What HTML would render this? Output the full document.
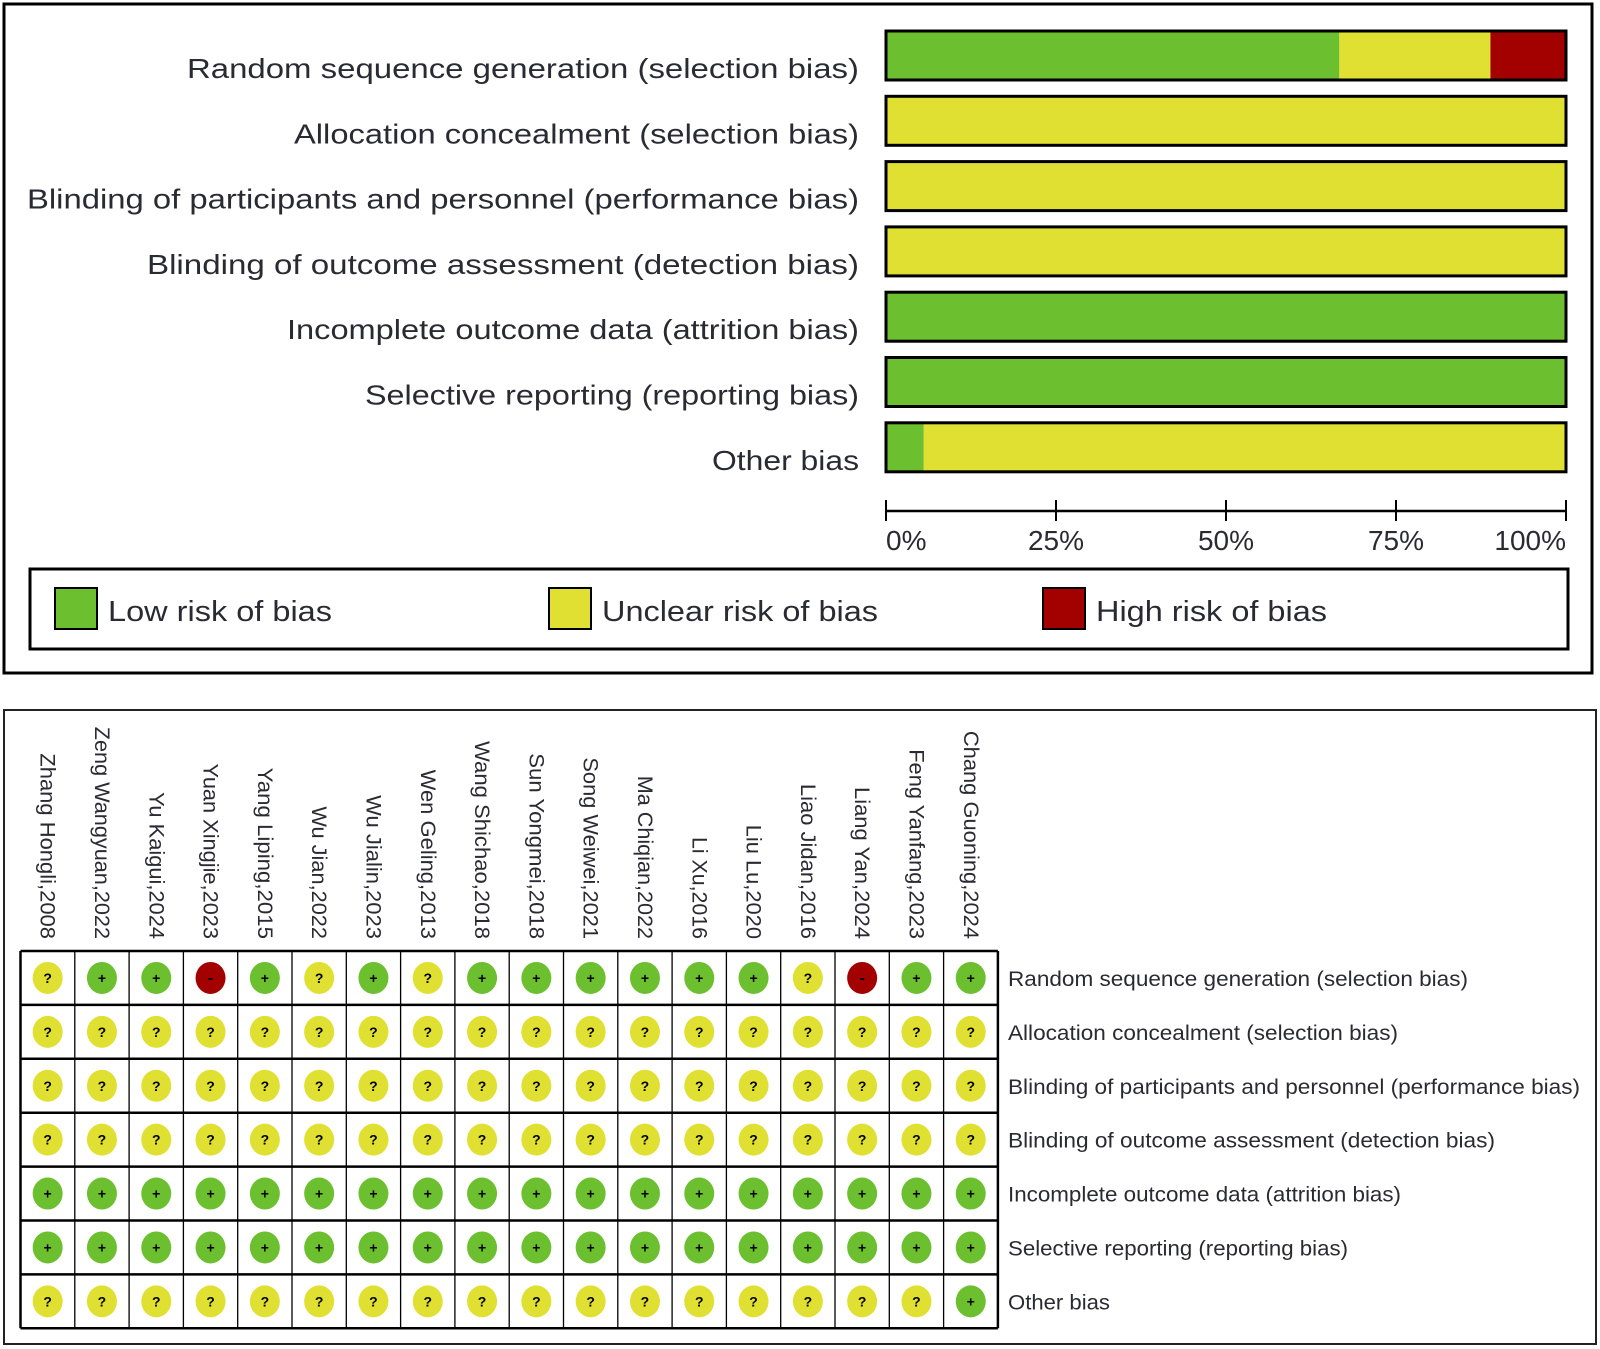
<!DOCTYPE html>
<html><head><meta charset="utf-8">
<style>
html,body{margin:0;padding:0;background:#fff;}
svg{display:block;font-family:"Liberation Sans","DejaVu Sans",sans-serif;}
</style></head>
<body>
<svg id="chart" width="1600" height="1349" viewBox="0 0 1600 1349" xmlns="http://www.w3.org/2000/svg">
<rect x="4" y="4" width="1588" height="669" fill="#fff" stroke="#000" stroke-width="3"/>
<rect x="4" y="710" width="1592" height="634" fill="#fff" stroke="#222" stroke-width="2"/>
</svg>
<script>
const domains = ["Random sequence generation (selection bias)","Allocation concealment (selection bias)","Blinding of participants and personnel (performance bias)","Blinding of outcome assessment (detection bias)","Incomplete outcome data (attrition bias)","Selective reporting (reporting bias)","Other bias"];
const studies = ["Zhang Hongli,2008","Zeng Wangyuan,2022","Yu Kaigui,2024","Yuan Xingjie,2023","Yang Liping,2015","Wu Jian,2022","Wu Jialin,2023","Wen Geling,2013","Wang Shichao,2018","Sun Yongmei,2018","Song Weiwei,2021","Ma Chiqian,2022","Li Xu,2016","Liu Lu,2020","Liao Jidan,2016","Liang Yan,2024","Feng Yanfang,2023","Chang Guoning,2024"];
const judgRandom     = "?++-+?+?++++++?-++".split("");
const judgAllocation = "??????????????????".split("");
const judgBlindPart  = "??????????????????".split("");
const judgBlindOut   = "??????????????????".split("");
const judgIncomplete = "++++++++++++++++++".split("");
const judgSelective  = "++++++++++++++++++".split("");
const judgOther      = "?????????????????+".split("");
const judgments = [judgRandom,judgAllocation,judgBlindPart,judgBlindOut,judgIncomplete,judgSelective,judgOther];
const tickLabels = ["0%","25%","50%","75%","100%"];
const tickValues = [0,25,50,75,100];
const legendLabels = ["Low risk of bias","Unclear risk of bias","High risk of bias"];

const NS="http://www.w3.org/2000/svg";
const svg=document.getElementById("chart");
const GREEN="#6cbf2e", YELLOW="#e0e032", RED="#a30000", TXT="#2a2a33";
function el(tag,attrs,parent){const e=document.createElementNS(NS,tag);for(const k in attrs)e.setAttribute(k,attrs[k]);(parent||svg).appendChild(e);return e;}

// top chart scales
const X0=886, X1=1566;
const xScale=p=>X0+(X1-X0)*p/100;
const rowTop=i=>31+i*65.3;
const BARH=49;
const labelLens=[672,565,832,712,572,494,147];

domains.forEach((d,i)=>{
  const j=judgments[i], n=j.length;
  const low=j.filter(v=>v==="+").length/n*100;
  const unc=j.filter(v=>v==="?").length/n*100;
  const high=j.filter(v=>v==="-").length/n*100;
  const y=rowTop(i);
  const t=el("text",{x:859,y:y+47,"text-anchor":"end","font-size":28,fill:TXT,textLength:labelLens[i],lengthAdjust:"spacingAndGlyphs"});
  t.textContent=d;
  
  
  let acc=0;
  [[low,GREEN,'bar-low'],[unc,YELLOW,'bar-unclear'],[high,RED,'bar-high']].forEach(([v,c,nm])=>{
    if(v<=0)return;
    const r=el("rect",{x:xScale(acc),y:y,width:xScale(acc+v)-xScale(acc),height:BARH,fill:c});
    
    
    acc+=v;
  });
  const b=el("rect",{x:X0,y:y,width:X1-X0,height:BARH,fill:"none",stroke:"#000","stroke-width":3});
  
  
});
// axis
const ax=el("line",{x1:X0,x2:X1,y1:511,y2:511,stroke:"#000","stroke-width":2.5});


tickValues.forEach((v,k)=>{
  const tk=el("line",{x1:xScale(v),x2:xScale(v),y1:500,y2:521,stroke:"#000","stroke-width":2});
  
  
  const anchor=k===0?"start":(k===tickValues.length-1?"end":"middle");
  const tl=el("text",{x:xScale(v),y:550,"text-anchor":anchor,"font-size":28,fill:TXT});
  tl.textContent=tickLabels[k];
  
  
});
// legend
const lg=el("rect",{x:30,y:569,width:1538,height:80,fill:"#fff",stroke:"#000","stroke-width":3});


const legX=[55,549,1043], legW=[224,276,231], legC=[GREEN,YELLOW,RED];
legendLabels.forEach((L,k)=>{
  const s=el("rect",{x:legX[k],y:588,width:42,height:41,fill:legC[k],stroke:"#000","stroke-width":2});
  
  
  const t=el("text",{x:legX[k]+53,y:621,"font-size":29,fill:TXT,textLength:legW[k],lengthAdjust:"spacingAndGlyphs"});
  t.textContent=L;
  
  
});

// bottom table
const GX=20.5, CW=54.3, GY=951, RH=53.9;
const colX=i=>GX+i*CW;
const rowY=i=>GY+i*RH;
const studyTops=[738,712,776,748,752,790,779,754,726,738,742,760,820,808,768,771,734,716];
studies.forEach((s,i)=>{
  const cx=colX(i)+CW/2, by=939;
  const len=(920-studyTops[i])*1.0204;
  const t=el("text",{x:0,y:0,"font-size":21,fill:TXT,"text-anchor":"end",transform:`translate(${cx-7},${by}) rotate(90)`,textLength:len,lengthAdjust:"spacingAndGlyphs"});
  t.textContent=s;
  
  
});
const rowLens=[460,390,572,487,393,340,102];
domains.forEach((d,r)=>{
  const t=el("text",{x:1008,y:rowY(r)+RH/2+8,"font-size":21,fill:TXT,textLength:rowLens[r],lengthAdjust:"spacingAndGlyphs"});
  t.textContent=d;
  
  
  judgments[r].forEach((v,c)=>{
    const cx=colX(c)+CW/2, cy=rowY(r)+RH/2;
    const fill=v==="+"?GREEN:(v==="-"?RED:YELLOW);
    const e=el("ellipse",{cx:cx,cy:cy,rx:15,ry:16,fill:fill});
    
    
    const sym=el("text",{x:cx,y:cy+5,"text-anchor":"middle","font-size":v==="-"?16:14,"font-weight":"bold",fill:"#000"});
    sym.textContent=v==="-"?"-":v;
    
    
  });
});
// grid lines
for(let c=0;c<=studies.length;c++){
  const l=el("line",{x1:colX(c),x2:colX(c),y1:GY,y2:rowY(domains.length),stroke:"#000","stroke-width":c===0||c===studies.length?2.5:1.3});
  
  
}
for(let r=0;r<=domains.length;r++){
  const l=el("line",{x1:GX,x2:colX(studies.length),y1:rowY(r),y2:rowY(r),stroke:"#000","stroke-width":2.5});
  
  
}
</script>
</body></html>
